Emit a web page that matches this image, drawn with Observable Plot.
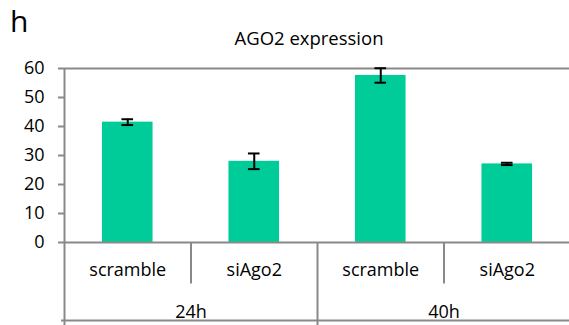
<!DOCTYPE html>
<html>
<head>
<meta charset="utf-8">
<script src="https://cdn.jsdelivr.net/npm/d3@7"></script>
<script src="https://cdn.jsdelivr.net/npm/@observablehq/plot@0.6"></script>
<style>
  html, body { margin: 0; padding: 0; background: #fff; }
  #wrap { width: 569px; height: 325px; position: relative; overflow: hidden; font-family: "Open Sans", sans-serif; }
  #head { position: relative; height: 55px; }
  #panel { position: absolute; left: 10px; top: 6.4px; font-size: 30px; line-height: 1; color: #000; }
  #title { position: absolute; left: 309px; transform: translateX(-50%); top: 29.3px; font-size: 18.5px; line-height: 1; white-space: nowrap; color: #000; }
  svg { display: block; }
</style>
</head>
<body>
<div id="wrap">
  <div id="head"><span id="panel">h</span><span id="title">AGO2 expression</span></div>
  <div id="chart"></div>
</div>
<script>
// Data
const panelLabel = "h";
const chartTitle = "AGO2 expression";
const groups = ["24h", "40h"];
const treatments = ["scramble", "siAgo2"];
const values = [41.5, 28.0, 57.6, 27.1];   // scramble 24h, siAgo2 24h, scramble 40h, siAgo2 40h
const errors = [1.0, 2.7, 2.5, 0.4];
const yTicks = [0, 10, 20, 30, 40, 50, 60];

document.getElementById("panel").textContent = panelLabel;
document.getElementById("title").textContent = chartTitle;

const rows = [];
groups.forEach((g, gi) => treatments.forEach((t, ti) => {
  const i = gi * treatments.length + ti;
  rows.push({i, group: g, treatment: t, value: values[i], err: errors[i]});
}));

const axisColor = "#898989";
const barColor = "#00CC99";
const nCats = rows.length;

const chart = Plot.plot({
  width: 569,
  height: 270,
  marginLeft: 64,
  marginRight: 0,
  marginTop: 13,
  marginBottom: 83,
  style: {fontFamily: "Open Sans, sans-serif", fontSize: "18px", color: "#000", background: "#fff"},
  x: {domain: [0, nCats], range: [64, 570], axis: null},
  y: {domain: [0, 60], axis: null},
  marks: [
    // bars
    Plot.rectY(rows, {x1: d => d.i + 0.3, x2: d => d.i + 0.7, y1: 0, y2: "value", fill: barColor}),
    // top line at 60 and baseline at 0
    Plot.ruleY([60, 0], {stroke: axisColor, strokeWidth: 2}),
    // bottom line of the category table
    Plot.ruleY([0], {stroke: axisColor, strokeWidth: 2, dy: 78, insetLeft: -3}),
    // y-axis line (continues through the category table)
    Plot.ruleX([0], {stroke: axisColor, strokeWidth: 2, insetBottom: -83}),
    // group divider
    Plot.ruleX([treatments.length], {y1: 0, y2: 0, stroke: axisColor, strokeWidth: 2, insetBottom: -83}),
    // treatment dividers within each group
    Plot.ruleX(groups.map((g, gi) => gi * treatments.length + 1), {y1: 0, y2: 0, stroke: axisColor, strokeWidth: 2, insetBottom: -41.5}),
    // y axis
    Plot.axisY({ticks: yTicks, tickSize: 6, tickPadding: 14, stroke: axisColor, strokeWidth: 2, fill: "#000", fontSize: 18, label: null}),
    // error bars
    Plot.ruleX(rows, {x: d => d.i + 0.5, y1: d => d.value - d.err, y2: d => d.value + d.err, stroke: "#000", strokeWidth: 2}),
    Plot.ruleY(rows, {y: d => d.value + d.err, x1: d => d.i + 0.5 - 0.046, x2: d => d.i + 0.5 + 0.046, stroke: "#000", strokeWidth: 2}),
    Plot.ruleY(rows, {y: d => d.value - d.err, x1: d => d.i + 0.5 - 0.046, x2: d => d.i + 0.5 + 0.046, stroke: "#000", strokeWidth: 2}),
    // category labels
    Plot.text(rows, {x: d => d.i + 0.5, frameAnchor: "bottom", lineAnchor: "middle", dy: 28, text: "treatment", fontSize: 18, fill: "#000"}),
    Plot.text(groups, {x: (d, gi) => gi * treatments.length + treatments.length / 2, frameAnchor: "bottom", lineAnchor: "middle", dy: 70, text: d => d, fontSize: 18, fill: "#000"})
  ]
});
document.getElementById("chart").appendChild(chart);
</script>
</body>
</html>
